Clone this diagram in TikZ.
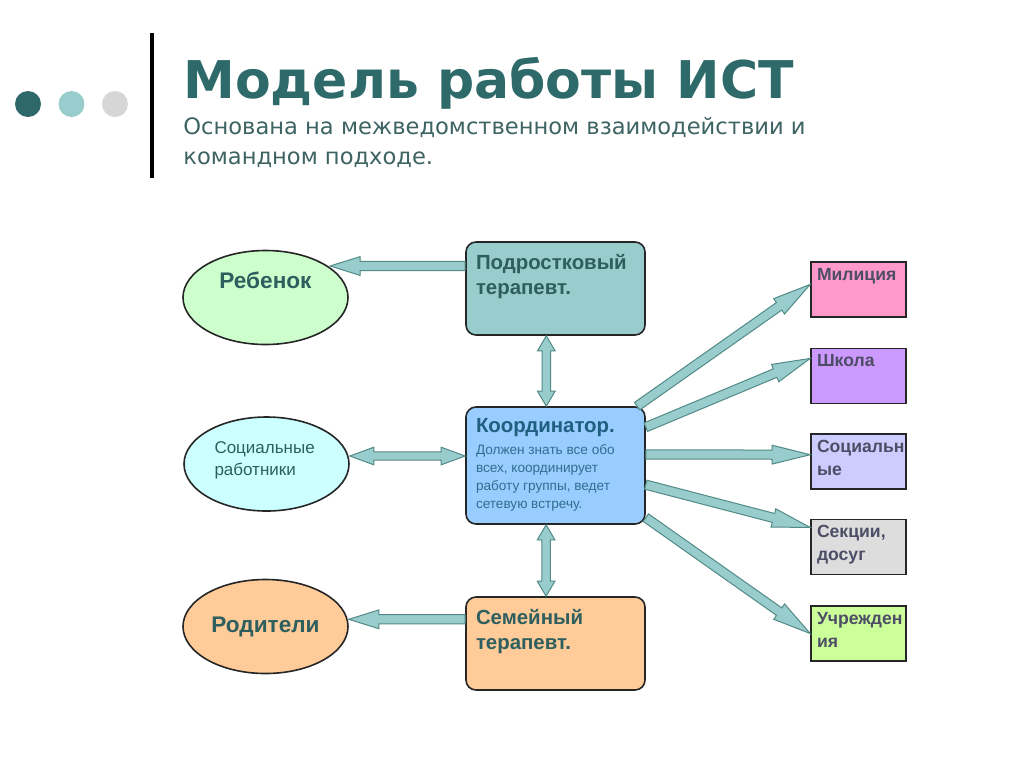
\documentclass[tikz,border=0pt]{standalone}
\usepackage{fontspec}
\setmainfont{Liberation Sans}
\newfontfamily\headfont{DejaVu Sans}
\usepackage{tikz}
\usetikzlibrary{calc,shapes.geometric}

\definecolor{headteal}{HTML}{2F6A6A}
\definecolor{subteal}{HTML}{3D6363}
\definecolor{dotdark}{HTML}{2F6868}
\definecolor{dotmid}{HTML}{99CCCC}
\definecolor{dotlight}{HTML}{D6D6D6}
\definecolor{arrowfill}{HTML}{99CCCC}
\definecolor{arrowline}{HTML}{528A87}
\definecolor{darktext}{HTML}{2E5E5E}
\definecolor{bluetext}{HTML}{1F5F7F}
\definecolor{bluebody}{HTML}{2F6F8F}
\definecolor{slatetext}{HTML}{4D4D66}
\definecolor{childfill}{HTML}{CCFFCC}
\definecolor{workerfill}{HTML}{CCFFFF}
\definecolor{peachfill}{HTML}{FFCC99}
\definecolor{coordfill}{HTML}{99CCFF}
\definecolor{policefill}{HTML}{FF99CC}
\definecolor{schoolfill}{HTML}{CC99FF}
\definecolor{socialfill}{HTML}{CCCCFF}
\definecolor{leisurefill}{HTML}{DDDDDD}
\definecolor{agencyfill}{HTML}{CCFF99}

\begin{document}
\begin{tikzpicture}[
        x=0.5pt, y=-0.5pt,
        title/.style={anchor=base west, inner sep=0pt, text=headteal, font=\headfont\bfseries\fontsize{26}{30}\selectfont},
        subtitle/.style={anchor=north west, inner sep=0pt, align=left, text=subteal, font=\headfont\fontsize{11.3}{15}\selectfont},
        dot/.style={circle, minimum size=13pt, inner sep=0pt},
        oval/.style={ellipse, draw=black!85, line width=0.8pt, minimum width=82.5pt, minimum height=47pt, inner sep=1pt, text=darktext, align=left},
        therapist/.style={rectangle, draw=black!85, line width=0.8pt, rounded corners=5pt, text width=79.5pt, align=left, inner xsep=5pt, inner ysep=4.5pt, text height=9.1pt, text=darktext, font=\bfseries\fontsize{10.2}{12.5}\selectfont},
        partner/.style={rectangle, draw=black!85, line width=0.8pt, text width=41.5pt, align=left, inner xsep=3pt, inner ysep=2.5pt, text height=6.6pt, text depth=15.9pt, text=slatetext, font=\bfseries\fontsize{8.8}{11.5}\selectfont},
        flow/.style={draw=arrowline, fill=arrowfill, line width=0.5pt,
            to path={let \p1=(\tikztostart), \p2=(\tikztotarget), \n1={atan2(\y2-\y1,\x2-\x1)} in
                ($(\p1)+(\n1+90:2.3pt)$) -- ($(\p2)+(\n1:-#1)+(\n1+90:2.3pt)$) -- ($(\p2)+(\n1:-#1)+(\n1+90:4.7pt)$) -- (\p2)
                -- ($(\p2)+(\n1:-#1)+(\n1-90:4.7pt)$) -- ($(\p2)+(\n1:-#1)+(\n1-90:2.3pt)$) -- ($(\p1)+(\n1-90:2.3pt)$) -- cycle}},
        flow/.default=19pt,
        twoway/.style={draw=arrowline, fill=arrowfill, line width=0.5pt,
            to path={let \p1=(\tikztostart), \p2=(\tikztotarget), \n1={atan2(\y2-\y1,\x2-\x1)} in
                (\p1) -- ($(\p1)+(\n1:#1)+(\n1+90:4.4pt)$) -- ($(\p1)+(\n1:#1)+(\n1+90:2.1pt)$)
                -- ($(\p2)+(\n1:-#1)+(\n1+90:2.1pt)$) -- ($(\p2)+(\n1:-#1)+(\n1+90:4.4pt)$) -- (\p2)
                -- ($(\p2)+(\n1:-#1)+(\n1-90:4.4pt)$) -- ($(\p2)+(\n1:-#1)+(\n1-90:2.1pt)$)
                -- ($(\p1)+(\n1:#1)+(\n1-90:2.1pt)$) -- ($(\p1)+(\n1:#1)+(\n1-90:4.4pt)$) -- cycle}},
        twoway/.default=7.5pt
    ]
    \useasboundingbox[fill=white] (0,0) rectangle (1024,767);

    % header
    \foreach \c [count=\i] in {dotdark,dotmid,dotlight}
        \node[dot, fill=\c] (dot\i) at ({28+43.5*(\i-1)},104) {};
    \draw[line width=2pt] (152,33) -- (152,178);
    \node[title] (title) at (183,98) {Модель работы ИСТ};
    \node[subtitle] (subtitle) at (183,117) {Основана на межведомственном взаимодействии и\\командном подходе.};

    % left column
    \node[oval, fill=childfill, text height=8pt, text depth=17pt, font=\bfseries\fontsize{11.3}{13}\selectfont] (reb) at (265.5,297.5) {Ребенок};
    \node[oval, fill=workerfill, text width=52pt, text height=8pt, text depth=19pt, font=\fontsize{8.5}{11}\selectfont] (socw) at (266.5,464) {Социальные\\работники};
    \node[oval, fill=peachfill, font=\bfseries\fontsize{11.3}{13}\selectfont] (rod) at (265.5,626.5) {Родители};

    % middle column
    \node[therapist, fill=dotmid, text depth=28.4pt] (podr) at (555.5,288.5) {Подростковый терапевт.};
    \node[therapist, fill=coordfill, text height=8.1pt, text depth=41.4pt, text=bluetext] (coord) at (555.5,465.5) {Координатор.\par\vspace{2pt}
        {\mdseries\fontsize{6.8}{9}\selectfont\spaceskip=0pt\xspaceskip=0pt\raggedright\color{bluebody}Должен знать все обо\\всех, координирует\\работу группы, ведет\\сетевую встречу.\par}};
    \node[therapist, fill=peachfill, text depth=28.4pt] (sem) at (555.5,643.5) {Семейный\\терапевт.};

    % right column
    \node[partner, fill=policefill] (mil) at (858.5,289.5) {Милиция};
    \node[partner, fill=schoolfill] (shk) at (858.5,376) {Школа};
    \node[partner, fill=socialfill] (socr) at (858.5,461.5) {Социальн\\ые};
    \node[partner, fill=leisurefill] (sek) at (858.5,547) {Секции,\\досуг};
    \node[partner, fill=agencyfill] (uch) at (858.5,633.5) {Учрежден\\ия};

    \draw[flow=15pt] (podr.166) to (reb.25 |- podr.166);
    \draw[twoway] (podr.-101.5) to (podr.-101.5 |- coord.north);
    \draw[twoway=12pt] (socw.east |- coord.174) to (coord.174);
    \draw[twoway] (coord.-99.2) to (coord.-99.2 |- sem.north);
    \draw[flow=15pt] (sem.165) to (rod.east |- sem.165);

    \draw[flow] (coord.36) to (mil.174);
    \draw[flow] (coord.23) to (shk.160);
    \draw[flow] (coord.7) to (socr.172);
    \draw[flow] (coord.-12) to (sek.158);
    \draw[flow] (coord.-30) to (uch.west);
\end{tikzpicture}
\end{document}
